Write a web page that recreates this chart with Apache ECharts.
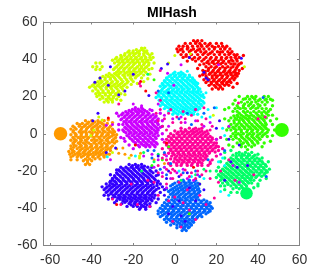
<!DOCTYPE html>
<html>
<head>
<meta charset="utf-8">
<style>html,body{margin:0;padding:0;background:#fff}#c{width:332px;height:276px}</style>
<script src="https://cdn.jsdelivr.net/npm/echarts@6/dist/echarts.min.js"></script>
</head>
<body>
<div id="c"></div>
<script>
const titleText = "MIHash";
const tickValues = [-60,-40,-20,0,20,40,60];
const classColors = ["#ff0000","#ff9900","#ccff00","#33ff00","#00ff66","#00ffff","#0066ff","#3300ff","#cc00ff","#ff0099"];

const redPts = [
[9,50],[11,50],[13,50],
[5,48.5],[7.5,48.5],[10,48.5],[12,48.5],[14.5,48.5],[17,48.5],[20,48.5],[22.5,48.5],
[2,47],[4,47],[6,47],[8.5,47],[11,47],[13,47],[15.5,47],[18,47],[21,47],[23,47],[25,47],
[1,45.5],[3.5,45.5],[6,45.5],[9,45.5],[12,45.5],[14,45.5],[16.5,45.5],[19,45.5],[22,45.5],[24,45.5],[26.5,45.5],
[1.5,44],[4,44],[7,44],[10,44],[12.5,44],[15,44],[18,44],[20.5,44],[23,44],[25.5,44],[27.5,44],
[3,42.5],[5.5,42.5],[8,42.5],[11,42.5],[13.5,42.5],[16,42.5],[19,42.5],[21.5,42.5],[24,42.5],[26,42.5],[28.5,42.5],[30,42.5],
[4,41],[7,41],[9.5,41],[12,41],[15,41],[17.5,41],[20,41],[22.5,41],[25,41],[27,41],[29,41],[31,41],
[6,39],[10,39],[13,39],[16,39],[18.5,39],[21,39],[23.5,39],[26,39],[28,39],[30,39],
[14,37.5],[16.5,37.5],[19,37.5],[22,37.5],[24.5,37.5],[27,37.5],[29,37.5],[31,37.5],
[15,36],[17.5,36],[20,36],[23,36],[25.5,36],[28,36],[30,36],
[13.5,34],[16,34],[18.5,34],[21,34],[24,34],[26.5,34],[29,34],[31,34],
[14.5,32.5],[17,32.5],[19.5,32.5],[22,32.5],[25,32.5],[27,32.5],[29.5,32.5],
[12,31],[15,31],[18,31],[20.5,31],[23,31],[25.5,31],[28,31],[30,31],
[14,29],[16.5,29],[19,29],[21.5,29],[24,29],[26.5,29],[28.5,29],[29,30],
[15,27.5],[17.5,27.5],[20,27.5],[22.5,27.5],[25,27.5],[27,27.5],
[16.5,26],[19,26],[21.5,26],[24,26],[26,26],
[18,24],[21,24],[23,24],[28,25],
[6.3,46.2],[10.2,49.1],[12.7,47.6],[16.4,47.8],[19.3,46.4],[24.2,46.1],[2.6,45.1],[7.8,44.8],[11,45],[14.2,43.4],[17,43.2],[21.8,43.6],[26.6,43.1],[29.3,41.8],[5.4,41.6],[8.5,40],[11.3,40.2],[14,40],[17,40.1],[19.6,39.9],[22.3,40],[24.6,40.4],[27.3,39.6],[29.7,40],[15.4,38.2],[18,38.4],[20.6,37.9],[23,38.2],[26,38.5],[28.4,37.4],[30.6,36.9],[16.3,35],[19.2,35.3],[21.7,35],[24.3,35.2],[27,35.3],[29.6,35.1],[14.6,33.4],[18,33.2],[20.6,33.4],[23.4,33.2],[26,33.4],[28.3,33.1],[30.6,32.4],[13.4,31.7],[16.6,31.9],[19.2,31.6],[21.8,31.7],[24.4,31.9],[27,31.8],[29.2,31.7],[15.5,29.9],[18,30],[20,30.2],[22.6,29.9],[25,30.1],[27.5,30],[16,28.4],[18.6,28.3],[21,28.4],[23.4,28.2],[25.9,28.1],[17.6,26.8],[20.4,26.7],[23,26.9],[25,26.9],[19.8,25],[22,25.1],
[32,38],[32.5,35],[33,42],[12,37],[11,35],[30,27]
];
const orangePts = [
[-43,7],[-40,7],[-37,7],[-34,7],
[-47,5.5],[-44.5,5.5],[-42,5.5],[-39.5,5.5],[-37,5.5],[-35,5.5],[-32.5,5.5],
[-49,4],[-46,4],[-43.5,4],[-41,4],[-38.5,4],[-36,4],[-33.5,4],[-31,4],
[-50,2.5],[-47.5,2.5],[-45,2.5],[-42.5,2.5],[-40,2.5],[-37.5,2.5],[-35,2.5],[-32.5,2.5],[-30,2.5],
[-49,1],[-46,1],[-44,1],[-41,1],[-38.5,1],[-36,1],[-33.5,1],[-31,1],[-29,1],
[-50,-0.5],[-47.5,-0.5],[-45,-0.5],[-42.5,-0.5],[-40,-0.5],[-37.5,-0.5],[-35,-0.5],[-32,-0.5],[-29.5,-0.5],
[-49,-2],[-46.5,-2],[-44,-2],[-41.5,-2],[-39,-2],[-36.5,-2],[-34,-2],[-31.5,-2],[-28.5,-2],
[-50,-3.5],[-47.5,-3.5],[-45,-3.5],[-43,-3.5],[-40,-3.5],[-37.5,-3.5],[-35,-3.5],[-33,-3.5],[-30,-3.5],
[-49,-5],[-46.5,-5],[-44,-5],[-41.5,-5],[-39,-5],[-36.5,-5],[-34,-5],[-31.5,-5],[-29,-5],
[-50,-6.5],[-47.5,-6.5],[-45,-6.5],[-42.5,-6.5],[-40,-6.5],[-37.5,-6.5],[-35,-6.5],[-32.5,-6.5],[-30,-6.5],
[-50,-8],[-47,-8],[-44.5,-8],[-42,-8],[-39.5,-8],[-37,-8],[-34.5,-8],[-32,-8],
[-51,-9.5],[-48.5,-9.5],[-46,-9.5],[-43.5,-9.5],[-41,-9.5],[-38,-9.5],[-36,-9.5],[-33.5,-9.5],
[-50.5,-11],[-48,-11],[-45.5,-11],[-43,-11],[-40.5,-11],[-38,-11],[-35.5,-11],[-33,-11],
[-50,-12.5],[-47,-12.5],[-45,-12.5],[-42,-12.5],[-39.5,-12.5],[-37,-12.5],[-34,-12.5],
[-44,-14.5],[-42,-14.5],[-40,-14.5],[-43,-16.5],[-41,-16.5],
[-41.5,6.2],[-38.5,6.3],[-35.8,6.2],[-45.7,4.8],[-43,4.7],[-40.2,4.8],[-37.6,4.7],[-34.2,4.8],[-48.2,3.3],[-44.6,3.4],[-42,3.2],[-39.4,3.3],[-37,3.2],[-34.3,3.3],[-31.7,3.1],[-48.8,1.7],[-45.3,1.8],[-42.8,1.6],[-39.6,1.8],[-37,1.8],[-34.4,1.7],[-31.9,1.9],[-29.6,1.7],[-48,0.2],[-45,0.3],[-42.6,0.4],[-39.8,0.2],[-37.3,0.3],[-34.8,0.2],[-32.2,0.2],[-30,0.3],[-47.7,-1.2],[-45.2,-1.3],[-42.8,-1.4],[-40.2,-1.2],[-37.8,-1.3],[-35.4,-1.2],[-33,-1.1],[-30.4,-1.3],[-48.4,-2.8],[-45.4,-2.7],[-42,-2.8],[-38.8,-2.9],[-36,-2.8],[-32.4,-2.7],[-29.3,-2.8],[-48.2,-4.2],[-45.4,-4.3],[-42.6,-4.2],[-38.4,-4.2],[-35.7,-4.3],[-32.2,-4.2],[-30.2,-4.3],[-48.6,-5.8],[-45.6,-5.7],[-43,-5.8],[-40.4,-5.7],[-37.8,-5.8],[-35.2,-5.7],[-32.8,-5.8],[-48.7,-7.3],[-45.8,-7.2],[-43.2,-7.3],[-40.8,-7.2],[-38.2,-7.3],[-35.8,-7.2],[-33.2,-7.3],[-30.8,-7.4],[-49.2,-8.8],[-45.4,-8.7],[-43,-8.8],[-40.2,-8.7],[-37.6,-8.8],[-35.3,-8.7],[-33,-8.8],[-49.4,-10.2],[-46.8,-10.3],[-44.2,-10.2],[-41.8,-10.3],[-39.2,-10.2],[-36.8,-10.3],[-34.4,-10.2],[-49,-11.8],[-46.5,-11.7],[-44,-11.8],[-41.6,-11.7],[-39.2,-11.8],[-36.4,-11.7],[-34.2,-11.8],[-43,-13.6],[-41,-13.5],[-38.4,-13.4],[-42,-15.6],
[-31,-9],[-31.5,-11],[-28,-4],[-28,-0.5],[-30,6],[-32,7.5],[-36,-13.5],[-47,-14],[-50,-14]
];
const yellowPts = [
[-16,46],[-14.5,46],
[-22,44.5],[-20,44.5],[-17,44.5],[-15,44.5],[-13.5,44.5],
[-24,43],[-21.5,43],[-19,43],[-17,43],[-15,43],[-13,43],[-11,43],
[-28,41],[-25.5,41],[-23,41],[-21,41],[-18.5,41],[-16,41],[-14,41],[-12,41],[-10.5,41],
[-30,39.5],[-27,39.5],[-25,39.5],[-22.5,39.5],[-20,39.5],[-18,39.5],[-15.5,39.5],[-13,39.5],
[-38,38],[-36,38],[-29,38],[-26.5,38],[-24,38],[-21.5,38],[-19,38],[-17,38],[-14.5,38],[-12.5,38],
[-39.5,36],[-37.5,36],[-35,36],[-28,36],[-25.5,36],[-23,36],[-20.5,36],[-18,36],[-16,36],[-13.5,36],
[-38,34.5],[-36,34.5],[-29.5,34.5],[-27,34.5],[-24.5,34.5],[-22,34.5],[-19.5,34.5],[-17,34.5],[-15,34.5],[-12.5,34.5],
[-28,33],[-26,33],[-23,33],[-21,33],[-18.5,33],[-16,33],[-14,33],
[-33,31.5],[-30.5,31.5],[-28,31.5],[-25,31.5],[-22.5,31.5],[-20,31.5],[-17.5,31.5],[-15,31.5],
[-36,30],[-33.5,30],[-31,30],[-29,30],[-26.5,30],[-24,30],[-21.5,30],[-19,30],[-16,30],
[-37,28],[-35,28],[-32.5,28],[-30,28],[-27.5,28],[-25,28],[-22.5,28],[-20,28],
[-39,26.5],[-36.5,26.5],[-34,26.5],[-31.5,26.5],[-29,26.5],[-26.5,26.5],[-24,26.5],[-21,26.5],
[-41,25],[-38.5,25],[-36,25],[-33,25],[-31,25],[-28.5,25],[-26,25],[-23,25],
[-39.5,23],[-37,23],[-34.5,23],[-32,23],[-29.5,23],[-27,23],[-24.5,23],
[-38,21.5],[-36,21.5],[-33.5,21.5],[-31,21.5],[-28.5,21.5],[-26,21.5],
[-37.5,20],[-35,20],[-32,20],[-29.5,20],[-27,20],
[-36,18.5],[-33,18.5],[-31,18.5],[-28,18.5],
[-34,17],[-32,17],[-30,17],
[-18.5,45.1],[-15.8,45.2],[-22.6,43.8],[-20.2,43.6],[-18,43.7],[-14,43.8],[-12,42.1],[-26,42],[-24.2,42.1],[-22,42.1],[-19.8,42],[-17.3,42],[-14.8,42.1],[-28.6,40.2],[-26.2,40.3],[-23.8,40.2],[-21.3,40.2],[-19,40.4],[-16.8,40.2],[-14.2,40.2],[-11.5,39.8],[-27.6,38.8],[-25.2,38.7],[-22.8,38.8],[-20.3,38.8],[-18,38.7],[-15.6,38.9],[-13.6,38.8],[-27.2,37],[-24.8,37.1],[-22.2,37],[-19.8,37.2],[-17,37],[-15,37.2],[-12.6,36.9],[-28.8,35.3],[-26.2,35.3],[-24,35.2],[-21.4,35.3],[-18.8,35.2],[-16.2,35.3],[-14.2,35.4],[-27.2,33.8],[-24.6,33.7],[-22,33.7],[-19.8,33.8],[-17.2,33.6],[-15,33.9],[-31.6,32.4],[-29,32.3],[-26.8,32.2],[-24,32.4],[-21.6,32.2],[-19.2,32.3],[-16.6,32.3],[-34.6,30.8],[-32,30.8],[-29.6,30.8],[-27.2,30.9],[-24.2,30.8],[-21.2,30.8],[-18.4,30.9],[-35.8,29],[-33.6,29],[-31,29.2],[-28.4,29],[-25.8,29.1],[-23.2,29],[-20.8,29.1],[-38,27.2],[-35.6,27.4],[-33,27.2],[-30.6,27.3],[-28,27.2],[-25.6,27.2],[-23,27.3],[-39.8,25.8],[-37.2,25.8],[-34.8,25.7],[-32.2,25.8],[-30,25.7],[-27.4,25.8],[-24.8,25.7],[-38,24],[-35.4,24],[-33,24.1],[-30.4,24],[-27.8,24.1],[-25.2,24],[-36.8,22.2],[-34.6,22.2],[-32,22.3],[-30,22.3],[-27.4,22.2],[-36.4,20.8],[-33.4,20.8],[-31,20.9],[-28.4,20.8],[-34.6,19.2],[-31.8,19.3],[-29.6,19.3],[-32.6,17.8],[-30.2,18],
[-10,38],[-11,35],[-12,32],[-13,29.5],[-18,27],[-15,28],[-24,21],[-26,18]
];
const greenPts = [
[35,20],[37,20],[39,20],[43,20],[45,20],
[33,18.5],[36,18.5],[38.5,18.5],[41,18.5],[44,18.5],[46,18.5],
[32,17],[35,17],[37,17],[39,17],[42,17],[44.5,17],
[30,15],[33,15],[35.5,15],[38,15],[41,15],
[29,13.5],[31.5,13.5],[34,13.5],[36.5,13.5],[39,13.5],[42,13.5],[44,13.5],
[24,13],[26,14],[28,12],[30,12],[33,12],[35,12],[38,12],[40.5,12],[43,12],[45,12],
[30,10],[32,10],[34.5,10],[37,10],[40,10],[42,10],[45,10],[47,10],
[27,8.5],[29,8.5],[31.5,8.5],[34,8.5],[36,8.5],[39,8.5],[41.5,8.5],[44,8.5],
[26,7],[28.5,7],[31,7],[33,7],[35.5,7],[38,7],[40.5,7],[43,7],[46,7],
[27,5],[30,5],[32,5],[34.5,5],[37,5],[39.5,5],[42,5],[44,5],
[26,3.5],[28,3.5],[31,3.5],[33.5,3.5],[36,3.5],[38.5,3.5],[41,3.5],[43.5,3.5],
[27,2],[29.5,2],[32,2],[35,2],[37.5,2],[40,2],[42.5,2],[45,2],
[28,0],[30.5,0],[33,0],[36,0],[38,0],[41,0],[43.5,0],
[27,-1.5],[29,-1.5],[32,-1.5],[34.5,-1.5],[37,-1.5],[39.5,-1.5],[42,-1.5],[44.5,-1.5],
[28,-3],[31,-3],[33.5,-3],[36,-3],[38.5,-3],[41,-3],
[30,-5],[33,-5],[35,-5],[37.5,-5],[40,-5],
[32,-7],[34,-7],[37,-7],[35,-8.5],
[34,18.8],[37.6,19.4],[40.2,17.8],[43.4,18.2],[33.6,16],[36.4,16],[40,15.8],[43.4,15.6],[30.6,14],[33,14],[37.4,14.2],[40,14],[31,11],[33.8,11.2],[36.4,11.2],[39.2,11],[41.8,11.2],[44,11],[28.4,9.6],[30.4,9.2],[33,9.2],[35.6,9.4],[38,9.4],[40.6,9.2],[43,9.2],[29.8,7.8],[32.4,7.8],[34.8,7.8],[37.2,7.8],[39.6,7.8],[42.4,7.8],[28.6,5.8],[31,6],[33.6,6],[36,6],[38.6,6],[41.2,6],[43.6,5.8],[29.4,4.2],[32.6,4.2],[35.2,4.2],[37.6,4.2],[40.2,4.2],[42.8,4.2],[28.6,2.8],[31,2.6],[33.6,2.8],[36.4,2.8],[39,2.8],[41.6,2.8],[44,2.8],[29.2,1],[32,1],[34.6,1],[37,1.2],[39.6,1],[42,1],[44.4,0.8],[29.4,-0.6],[31.6,-0.6],[35,-0.6],[37.4,-0.6],[40,-0.6],[42.6,-0.6],[29.6,-2.2],[32.6,-2.2],[35.2,-2.2],[37.8,-2.2],[40.4,-2.2],[31.6,-4],[34.4,-4],[37,-4],[39.6,-4],[32,-5.8],[35.6,-6],[38.4,-6],
[47,5],[48,2],[47,-1],[46,13],[47,15],[24,8],[25,2],[25,-3],[26,-6],[28,-7],[43,-5],[42,-7],[28,16],[29,18],[31,20],[47,18],[49,8],[46,-4]
];
const springPts = [
[31,-10],[34,-10],[37,-10],
[28,-11.5],[31,-11.5],[33.5,-11.5],[36,-11.5],[38.5,-11.5],
[27,-13],[29.5,-13],[32,-13],[34.5,-13],[37,-13],[39.5,-13],
[26,-14.5],[28.5,-14.5],[31,-14.5],[33.5,-14.5],[36,-14.5],[38.5,-14.5],[41,-14.5],
[25,-16],[27.5,-16],[30,-16],[32.5,-16],[35,-16],[37.5,-16],[40,-16],[42.5,-16],
[24,-17.5],[26.5,-17.5],[29,-17.5],[31.5,-17.5],[34,-17.5],[36.5,-17.5],[39,-17.5],[41.5,-17.5],[44,-17.5],
[23,-19],[25.5,-19],[28,-19],[30.5,-19],[33,-19],[35.5,-19],[38,-19],[40.5,-19],[43,-19],[45.5,-19],
[22,-20.5],[24.5,-20.5],[27,-20.5],[29.5,-20.5],[32,-20.5],[34.5,-20.5],[37,-20.5],[39.5,-20.5],[42,-20.5],[44.5,-20.5],
[21,-22],[23.5,-22],[26,-22],[28.5,-22],[31,-22],[33.5,-22],[36,-22],[38,-22],[40.5,-22],[43,-22],
[20,-23.5],[22.5,-23.5],[25,-23.5],[27.5,-23.5],[30,-23.5],[32.5,-23.5],[35,-23.5],[37,-23.5],[39,-23.5],
[22,-25],[24,-25],[26.5,-25],[29,-25],[31.5,-25],[34,-25],[36.5,-25],[38,-25],
[23,-26.5],[25.5,-26.5],[28,-26.5],[30.5,-26.5],[33,-26.5],[35.5,-26.5],[37,-26.5],
[24,-28],[27,-28],[29.5,-28],[32,-28],[34.5,-28],
[28,-29.5],[31,-29.5],[33,-29.5],[27,-31.5],[30,-31.5],
[29.6,-10.6],[32.4,-10.8],[35.4,-10.8],[29.6,-12.2],[32.2,-12.2],[35,-12.2],[37.8,-12.2],[28,-13.8],[30.4,-13.8],[33,-13.8],[35.8,-13.8],[38.4,-13.8],[40.6,-13.6],[26.8,-15.2],[29.4,-15.2],[32,-15.2],[34.8,-15.2],[37.2,-15.2],[39.8,-15.2],[42,-15],[25.8,-16.8],[28.4,-16.8],[31,-16.8],[33.6,-16.8],[36.2,-16.8],[38.6,-16.8],[41.2,-16.8],[43.6,-16.6],[24.6,-18.2],[27.2,-18.2],[29.8,-18.2],[32.4,-18.2],[35,-18.2],[37.6,-18.2],[40.2,-18.2],[42.6,-18.2],[23.8,-19.8],[26.4,-19.8],[29,-19.8],[31.4,-19.8],[34,-19.8],[36.4,-19.8],[39,-19.8],[41.6,-19.8],[44,-19.8],[22.6,-21.2],[25.4,-21.2],[27.8,-21.2],[30.4,-21.2],[32.8,-21.2],[35.4,-21.2],[38,-21],[40.8,-21.2],[43.4,-21.2],[22,-22.8],[24.4,-22.8],[27,-22.8],[29.6,-22.8],[32.2,-22.8],[34.6,-22.8],[37,-22.8],[39.4,-22.8],[41.8,-22.8],[23.4,-24.2],[26,-24.2],[28.4,-24.2],[31,-24.2],[33.6,-24.2],[36,-24.2],[24.8,-25.8],[27.4,-25.8],[30,-25.8],[32.6,-25.8],[35,-25.8],[25.6,-27.2],[28.6,-27.2],[31,-27.2],[33.8,-27.2],[29.6,-28.8],[32.4,-28.8],
[24,-13],[22,-15],[21,-18],[20,-20],[24,-10],[27,-9],[40,-11],[42,-13],[45,-15],[40,-27],[41,-25],[44,-24],[22,-28],[24,-30],[38,-29],[40,-28]
];
const cyanPts = [
[0,33],[3,33],
[-2,31.5],[0.5,31.5],[3,31.5],[5,31.5],[7,31.5],
[-4,30],[-1.5,30],[1,30],[3.5,30],[6,30],[8.5,30],
[-5,28.5],[-2.5,28.5],[0,28.5],[2.5,28.5],[5,28.5],[7.5,28.5],[9.5,28.5],
[-6,27],[-3.5,27],[-1,27],[1.5,27],[4,27],[6.5,27],[9,27],[11,27],
[-7,25.5],[-4.5,25.5],[-2,25.5],[0.5,25.5],[3,25.5],[5.5,25.5],[8,25.5],[10.5,25.5],
[-6,24],[-3,24],[-0.5,24],[2,24],[4.5,24],[7,24],[9.5,24],[12,24],
[-7.5,22.5],[-5,22.5],[-2.5,22.5],[0,22.5],[2.5,22.5],[5,22.5],[7.5,22.5],[10,22.5],[12.5,22.5],
[-8,21],[-5.5,21],[-3,21],[-0.5,21],[2,21],[4.5,21],[7,21],[9.5,21],[12,21],[13.5,21],
[-9,19.5],[-6.5,19.5],[-4,19.5],[-1.5,19.5],[1,19.5],[3.5,19.5],[6,19.5],[8.5,19.5],[11,19.5],[14,19.5],
[-7.5,18],[-5,18],[-2.5,18],[0,18],[2.5,18],[5,18],[7.5,18],[10,18],[12.5,18],
[-6,16.5],[-3.5,16.5],[-1,16.5],[1.5,16.5],[4,16.5],[6.5,16.5],[9,16.5],[11.5,16.5],[14,16.5],
[-7,15],[-4.5,15],[-2,15],[0.5,15],[3,15],[5.5,15],[8,15],[10.5,15],[13,15],
[-5,13.5],[-2.5,13.5],[0,13.5],[2.5,13.5],[5,13.5],[7.5,13.5],[10,13.5],[12,13.5],
[-3,12],[-0.5,12],[2,12],[4.5,12],[7,12],[9.5,12],
[-1,10.5],[1.5,10.5],[4,10.5],[6.5,10.5],[9,10.5],[11,10.5],
[-0.8,32.2],[1.8,32.4],[4,32.2],[-2.8,30.8],[-0.2,30.8],[2.2,30.8],[4.6,30.8],[7.2,30.6],[-3.6,29.2],[-1,29.2],[1.4,29.2],[4,29.2],[6.4,29.2],[8.8,29.2],[-4.6,27.8],[-2,27.8],[0.6,27.8],[3.2,27.8],[5.8,27.8],[8.2,27.8],[10.2,27.6],[-5.6,26.2],[-3,26.2],[-0.4,26.2],[2,26.2],[4.6,26.2],[7.2,26.2],[9.8,26.2],[-5.2,24.8],[-1.8,24.8],[0.8,24.8],[3.4,24.8],[6,24.8],[8.6,24.8],[11,24.8],[-6.4,23.2],[-3.8,23.2],[-1.2,23.2],[1.2,23.2],[3.6,23.2],[6.2,23.2],[8.8,23.2],[11.2,23.2],[-6.6,21.8],[-4,21.8],[-1.6,21.8],[1,21.8],[3.4,21.8],[6,21.8],[8.6,21.8],[11,21.8],[-7.6,20.2],[-5,20.2],[-2.4,20.2],[0,20.2],[2.6,20.2],[5.2,20.2],[7.8,20.2],[10.4,20.2],[12.8,20.2],[-6.4,18.8],[-3.8,18.8],[-1.2,18.8],[1.4,18.8],[4,18.8],[6.6,18.8],[9.2,18.8],[11.8,18.8],[-6.6,17.2],[-4,17.2],[-1.6,17.2],[1,17.2],[3.6,17.2],[6,17.2],[8.6,17.2],[11.2,17.2],[13.4,17.4],[-5.6,15.8],[-2.8,15.8],[-0.2,15.8],[2.2,15.8],[4.8,15.8],[7.4,15.8],[9.8,15.8],[12.4,15.8],[-3.6,14.2],[-1,14.2],[1.4,14.2],[4,14.2],[6.4,14.2],[9,14.2],[11.6,14.2],[-1.6,12.8],[1,12.8],[3.6,12.8],[6,12.8],[8.6,12.8],[11,12.8],[0.4,11.2],[3,11.2],[5.6,11.2],[8,11.2]
];
const bluePts = [
[4,-25],[7,-25],[10,-25],
[0,-26.5],[3,-26.5],[5.5,-26.5],[8,-26.5],[11,-26.5],
[-2,-28],[1,-28],[3.5,-28],[6,-28],[8.5,-28],[11,-28],
[-4,-29.5],[-1,-29.5],[1.5,-29.5],[4,-29.5],[6.5,-29.5],[9,-29.5],[11.5,-29.5],
[-3,-31],[-0.5,-31],[2,-31],[4.5,-31],[7,-31],[9.5,-31],[12,-31],
[-2,-32.5],[0.5,-32.5],[3,-32.5],[5.5,-32.5],[8,-32.5],[10.5,-32.5],
[-3,-34],[-1,-34],[1.5,-34],[4,-34],[6.5,-34],[9,-34],[11,-34],
[-4,-35.5],[-1.5,-35.5],[1,-35.5],[3.5,-35.5],[6,-35.5],[8.5,-35.5],[11.5,-35.5],[14,-35.5],
[-5,-37],[-2.5,-37],[0,-37],[2.5,-37],[5,-37],[7.5,-37],[10,-37],[12.5,-37],[15,-37],[17,-37],
[-6,-38.5],[-3.5,-38.5],[-1,-38.5],[1.5,-38.5],[4,-38.5],[6.5,-38.5],[9,-38.5],[11.5,-38.5],[14,-38.5],[16.5,-38.5],
[-7,-40],[-4.5,-40],[-2,-40],[0.5,-40],[3,-40],[5.5,-40],[8,-40],[10.5,-40],[13,-40],[15.5,-40],[18,-40],
[-8,-41.5],[-5.5,-41.5],[-3,-41.5],[-0.5,-41.5],[2,-41.5],[4.5,-41.5],[7,-41.5],[9.5,-41.5],[12,-41.5],[14.5,-41.5],[17,-41.5],
[-8,-43],[-5,-43],[-2,-43],[0,-43],[2.5,-43],[5,-43],[7.5,-43],[10,-43],[12.5,-43],[15,-43],
[-7,-44.5],[-4,-44.5],[-1.5,-44.5],[1,-44.5],[3.5,-44.5],[6,-44.5],[8.5,-44.5],[11,-44.5],[13,-44.5],
[-5,-46],[-3,-46],[-0.5,-46],[2,-46],[4.5,-46],[7,-46],[9.5,-46],
[-4,-47.5],[-1,-47.5],[1.5,-47.5],[4,-47.5],[6.5,-47.5],[9,-47.5],
[-2,-49],[1,-49],[3.5,-49],[6,-49],[8,-49],
[1,-50.5],[4,-50.5],[6.5,-50.5],[3.5,-52],[5.5,-52],
[1.6,-25.8],[4.4,-25.8],[6.8,-25.8],[9.4,-25.8],[-1,-27.2],[2.2,-27.2],[4.8,-27.2],[7.2,-27.2],[9.8,-27.2],[0,-28.8],[2.6,-28.8],[5,-28.8],[7.6,-28.8],[10,-28.8],[-2,-30.2],[0.6,-30.2],[3.2,-30.2],[5.6,-30.2],[8.2,-30.2],[10.8,-30.2],[-1,-31.8],[1.4,-31.8],[4,-31.8],[6.6,-31.8],[9.2,-31.8],[11.4,-31.8],[-0.6,-33.2],[2.2,-33.2],[4.8,-33.2],[7.4,-33.2],[9.8,-33.2],[0,-34.8],[2.6,-34.8],[5.2,-34.8],[7.8,-34.8],[10.2,-34.8],[-3,-36.2],[-0.4,-36.2],[2.2,-36.2],[4.8,-36.2],[7.2,-36.2],[10,-36.2],[12.8,-36.2],[15.4,-36.2],[-3.8,-37.8],[-1.2,-37.8],[1.2,-37.8],[3.8,-37.8],[6.2,-37.8],[8.8,-37.8],[11.2,-37.8],[13.8,-37.8],[16.2,-37.8],[-4.8,-39.2],[-2.2,-39.2],[0.2,-39.2],[2.8,-39.2],[5.4,-39.2],[7.8,-39.2],[10.2,-39.2],[12.8,-39.2],[15.2,-39.2],[17.4,-39.2],[-5.8,-40.8],[-3.2,-40.8],[-0.8,-40.8],[1.8,-40.8],[4.2,-40.8],[6.8,-40.8],[9.2,-40.8],[11.8,-40.8],[14.2,-40.8],[16.6,-40.8],[-6.6,-42.2],[-4,-42.2],[-1.4,-42.2],[1,-42.2],[3.4,-42.2],[6,-42.2],[8.6,-42.2],[11,-42.2],[13.6,-42.2],[16,-42.2],[-6,-43.8],[-3.4,-43.8],[-0.8,-43.8],[1.6,-43.8],[4.2,-43.8],[6.8,-43.8],[9.2,-43.8],[11.8,-43.8],[-4,-45.2],[-1.8,-45.2],[0.8,-45.2],[3.2,-45.2],[5.6,-45.2],[8.4,-45.2],[10.6,-45.2],[-2,-46.8],[0.6,-46.8],[3.2,-46.8],[5.8,-46.8],[8.2,-46.8],[-0.4,-48.2],[2.4,-48.2],[4.8,-48.2],[7.4,-48.2],[2.6,-49.8],[5,-49.8],[7,-50],[4.6,-51.2]
];
const indigoPts = [
[-22,-16.5],[-19,-16.5],[-16,-16.5],
[-26,-18],[-23.5,-18],[-21,-18],[-18.5,-18],[-16,-18],[-13,-18],
[-27,-19.5],[-24.5,-19.5],[-22,-19.5],[-19.5,-19.5],[-17,-19.5],[-14.5,-19.5],[-12,-19.5],
[-28,-21],[-25.5,-21],[-23,-21],[-20.5,-21],[-18,-21],[-15.5,-21],[-13,-21],[-10.5,-21],
[-29,-22.5],[-26.5,-22.5],[-24,-22.5],[-21.5,-22.5],[-19,-22.5],[-16.5,-22.5],[-14,-22.5],[-11.5,-22.5],[-9,-22.5],
[-30,-24],[-28,-24],[-25,-24],[-22.5,-24],[-20,-24],[-17.5,-24],[-15,-24],[-12.5,-24],[-10,-24],
[-31,-25.5],[-29,-25.5],[-26.5,-25.5],[-24,-25.5],[-21.5,-25.5],[-19,-25.5],[-16.5,-25.5],[-14,-25.5],[-11.5,-25.5],[-8,-25.5],
[-33,-27],[-30,-27],[-28,-27],[-25.5,-27],[-23,-27],[-20.5,-27],[-18,-27],[-15.5,-27],[-13,-27],[-10.5,-27],[-7,-27],
[-35,-28.5],[-32.5,-28.5],[-30,-28.5],[-27.5,-28.5],[-25,-28.5],[-22.5,-28.5],[-20,-28.5],[-17.5,-28.5],[-15,-28.5],[-12.5,-28.5],[-10,-28.5],[-6,-28.5],
[-34,-30],[-31.5,-30],[-29,-30],[-26.5,-30],[-24,-30],[-21.5,-30],[-19,-30],[-16.5,-30],[-14,-30],[-11.5,-30],[-9,-30],[-5,-30],
[-33,-31.5],[-30.5,-31.5],[-28,-31.5],[-25.5,-31.5],[-23,-31.5],[-20.5,-31.5],[-18,-31.5],[-15.5,-31.5],[-13,-31.5],[-10.5,-31.5],[-7,-31.5],
[-32,-33],[-29.5,-33],[-27,-33],[-24.5,-33],[-22,-33],[-19.5,-33],[-17,-33],[-14.5,-33],[-12,-33],[-9.5,-33],
[-30,-34.5],[-27.5,-34.5],[-25,-34.5],[-22.5,-34.5],[-20,-34.5],[-17.5,-34.5],[-15,-34.5],[-12.5,-34.5],[-10,-34.5],
[-28,-36],[-25,-36],[-23,-36],[-20.5,-36],[-18,-36],[-15.5,-36],[-13,-36],[-11,-36],
[-25.5,-37.5],[-22,-37.5],[-19.5,-37.5],[-17,-37.5],[-14.5,-37.5],[-12,-37.5],
[-23,-39],[-20,-39],[-18,-39],[-15,-39],[-12,-39],[-17,-40.5],[-14,-40.5],
[-20.4,-17.2],[-17.6,-17.2],[-14.6,-17.4],[-25,-18.8],[-22.6,-18.8],[-20,-18.8],[-17.4,-18.8],[-15,-18.8],[-26.4,-20.2],[-23.8,-20.2],[-21.2,-20.2],[-18.8,-20.2],[-16.2,-20.2],[-13.8,-20.2],[-11.4,-20.2],[-27.4,-21.8],[-24.8,-21.8],[-22.2,-21.8],[-19.8,-21.8],[-17.2,-21.8],[-14.8,-21.8],[-12.2,-21.8],[-28.8,-23.2],[-26,-23.2],[-23.4,-23.2],[-20.8,-23.2],[-18.4,-23.2],[-15.8,-23.2],[-13.2,-23.2],[-10.8,-23.2],[-30,-24.8],[-27.2,-24.8],[-24.8,-24.8],[-22.2,-24.8],[-19.8,-24.8],[-17.2,-24.8],[-14.8,-24.8],[-12.2,-24.8],[-9.4,-24.8],[-31.2,-26.2],[-28.4,-26.2],[-25.8,-26.2],[-23.2,-26.2],[-20.8,-26.2],[-18.2,-26.2],[-15.8,-26.2],[-13.2,-26.2],[-10.6,-26.2],[-8.4,-26.4],[-31.4,-27.8],[-29,-27.8],[-26.6,-27.8],[-24,-27.8],[-21.6,-27.8],[-19,-27.8],[-16.6,-27.8],[-14,-27.8],[-11.6,-27.8],[-8.6,-27.8],[-33.2,-29.2],[-30.8,-29.2],[-28.2,-29.2],[-25.8,-29.2],[-23.2,-29.2],[-20.8,-29.2],[-18.2,-29.2],[-15.8,-29.2],[-13.2,-29.2],[-10.8,-29.2],[-7.8,-29.2],[-32.2,-30.8],[-29.8,-30.8],[-27.2,-30.8],[-24.8,-30.8],[-22.2,-30.8],[-19.8,-30.8],[-17.2,-30.8],[-14.8,-30.8],[-12.2,-30.8],[-9.8,-30.8],[-30.8,-32.2],[-28.4,-32.2],[-25.8,-32.2],[-23.2,-32.2],[-20.8,-32.2],[-18.2,-32.2],[-15.8,-32.2],[-13.2,-32.2],[-10.8,-32.2],[-28.8,-33.8],[-26.2,-33.8],[-23.8,-33.8],[-21.2,-33.8],[-18.8,-33.8],[-16.2,-33.8],[-13.8,-33.8],[-11,-33.8],[-26.4,-35.2],[-24,-35.2],[-21.4,-35.2],[-19,-35.2],[-16.6,-35.2],[-14,-35.2],[-11.6,-35.2],[-24,-36.8],[-21.4,-36.8],[-19,-36.8],[-16.6,-36.8],[-14,-36.8],[-21,-38.2],[-18.6,-38.2],[-16,-38.2],[-13.4,-38.2],[-16.4,-39.6],[-14,-39.6],
[-8,-22],[-9,-20],[-11,-18],[-8,-35],[-9,-37],[-29,-37],[-32,-35],[-34,-33],[-31,-22],[-28,-19.5]
];
const magentaPts = [
[-19,14],[-16,14],
[-22,12.5],[-19,12.5],[-17,12.5],[-14.5,12.5],
[-28,11],[-25,11],[-22.5,11],[-20,11],[-17.5,11],[-15,11],[-12.5,11],
[-27,9.5],[-24,9.5],[-21.5,9.5],[-19,9.5],[-16.5,9.5],[-14,9.5],[-11.5,9.5],[-9,9.5],
[-25.5,8],[-23,8],[-20.5,8],[-18,8],[-15.5,8],[-13,8],[-10.5,8],[-8,8],
[-24.5,6.5],[-22,6.5],[-19.5,6.5],[-17,6.5],[-14.5,6.5],[-12,6.5],[-9.5,6.5],
[-25,5],[-23,5],[-20.5,5],[-18,5],[-15.5,5],[-13,5],[-10.5,5],[-8,5],
[-24,3.5],[-21.5,3.5],[-19,3.5],[-16.5,3.5],[-14,3.5],[-11.5,3.5],[-9,3.5],[-7,3.5],
[-25,2],[-22.5,2],[-20,2],[-17.5,2],[-15,2],[-12.5,2],[-10,2],[-8,2],
[-23.5,0.5],[-21,0.5],[-18.5,0.5],[-16,0.5],[-13.5,0.5],[-11,0.5],[-8.5,0.5],
[-23,-1],[-20.5,-1],[-18,-1],[-15.5,-1],[-13,-1],[-10.5,-1],[-8,-1],
[-21.5,-2.5],[-19,-2.5],[-16.5,-2.5],[-14,-2.5],[-11.5,-2.5],[-9,-2.5],
[-20,-4],[-17.5,-4],[-15,-4],[-12.5,-4],[-10,-4],
[-19,-5.5],[-16,-5.5],[-13.5,-5.5],[-11,-5.5],[-8.5,-5.5],
[-17,-7],[-14,-7],[-12,-7],[-9.5,-7],
[-17.6,13.2],[-20.4,13],[-15.4,13.2],[-23.6,11.8],[-21,11.8],[-18.4,11.8],[-16,11.8],[-13.4,11.8],[-25.6,10.2],[-23,10.2],[-20.6,10.2],[-18,10.2],[-15.6,10.2],[-13,10.2],[-10.4,10.2],[-24.4,8.8],[-22,8.8],[-19.6,8.8],[-17,8.8],[-14.4,8.8],[-12,8.8],[-9.6,8.8],[-23.4,7.2],[-21,7.2],[-18.6,7.2],[-16,7.2],[-13.6,7.2],[-11,7.2],[-8.6,7.2],[-23.4,5.8],[-21,5.8],[-18.6,5.8],[-16,5.8],[-13.4,5.8],[-11,5.8],[-8.4,5.8],[-22.4,4.2],[-19.8,4.2],[-17.4,4.2],[-15,4.2],[-12.4,4.2],[-9.8,4.2],[-23.4,2.8],[-21,2.8],[-18.4,2.8],[-15.8,2.8],[-13.4,2.8],[-11,2.8],[-8.4,2.8],[-24.4,1.2],[-21.8,1.2],[-19.4,1.2],[-16.8,1.2],[-14.4,1.2],[-11.8,1.2],[-9.2,1.2],[-22,-0.2],[-19.6,-0.2],[-17,-0.2],[-14.6,-0.2],[-12,-0.2],[-9.6,-0.2],[-22,-1.8],[-19.4,-1.8],[-17,-1.8],[-14.4,-1.8],[-12,-1.8],[-9.4,-1.8],[-20.6,-3.2],[-18,-3.2],[-15.4,-3.2],[-13,-3.2],[-10.6,-3.2],[-19,-4.8],[-16.4,-4.8],[-14,-4.8],[-11.4,-4.8],[-9,-4.8],[-17.6,-6.2],[-15,-6.2],[-12.6,-6.2],[-10,-6.2],
[-27,5],[-27,2],[-26,-2],[-24,-4],[-22,-6],[-20,-8],[-6,0],[-6,-3],[-6,7],[-7,11],[-11,12.5],[-24.5,-2.5]
];
const pinkPts = [
[3,3],[7,3],[10,3],[13,3],
[0,1.5],[3,1.5],[5.5,1.5],[8,1.5],[10.5,1.5],[13,1.5],[15.5,1.5],
[-2,0],[1,0],[3.5,0],[6,0],[8.5,0],[11,0],[13.5,0],[16,0],
[-3,-1.5],[-0.5,-1.5],[2,-1.5],[4.5,-1.5],[7,-1.5],[9.5,-1.5],[12,-1.5],[14.5,-1.5],[17,-1.5],
[-4,-3],[-1.5,-3],[1,-3],[3.5,-3],[6,-3],[8.5,-3],[11,-3],[13.5,-3],[16,-3],[18,-3],
[-5,-4.5],[-2.5,-4.5],[0,-4.5],[2.5,-4.5],[5,-4.5],[7.5,-4.5],[10,-4.5],[12.5,-4.5],[15,-4.5],[17.5,-4.5],
[-4,-6],[-1.5,-6],[1,-6],[3.5,-6],[6,-6],[8.5,-6],[11,-6],[13.5,-6],[16,-6],[18.5,-6],[21,-7],
[-3,-7.5],[-0.5,-7.5],[2,-7.5],[4.5,-7.5],[7,-7.5],[9.5,-7.5],[12,-7.5],[14.5,-7.5],[17,-7.5],[19.5,-7.5],
[-2,-9],[0.5,-9],[3,-9],[5.5,-9],[8,-9],[10.5,-9],[13,-9],[15.5,-9],[18,-9],[21,-9],
[-3,-10.5],[-1,-10.5],[1.5,-10.5],[4,-10.5],[6.5,-10.5],[9,-10.5],[11.5,-10.5],[14,-10.5],[16.5,-10.5],
[-1.5,-12],[1,-12],[3.5,-12],[6,-12],[8.5,-12],[11,-12],[13.5,-12],[15.5,-12],
[-2,-13.5],[0,-13.5],[2.5,-13.5],[5,-13.5],[7.5,-13.5],[10,-13.5],[12.5,-13.5],[15,-13.5],
[-0.5,-15],[2,-15],[4.5,-15],[7,-15],[9.5,-15],[12,-15],
[1,-17],[3,-17],[6,-17],[8,-17],[11,-17],[13,-17],
[5,2.2],[9,2.4],[11.6,2.4],[1.6,0.8],[4.2,0.8],[6.8,0.8],[9.4,0.8],[12,0.8],[14.4,0.8],[-0.6,-0.8],[2.2,-0.8],[4.8,-0.8],[7.4,-0.8],[10,-0.8],[12.6,-0.8],[15,-0.8],[-1.8,-2.2],[0.8,-2.2],[3.2,-2.2],[5.8,-2.2],[8.2,-2.2],[10.8,-2.2],[13.2,-2.2],[15.8,-2.2],[18,-2.2],[-2.8,-3.8],[-0.4,-3.8],[2.2,-3.8],[4.8,-3.8],[7.2,-3.8],[9.8,-3.8],[12.2,-3.8],[14.8,-3.8],[17.2,-3.8],[-3.8,-5.2],[-1.2,-5.2],[1.2,-5.2],[3.8,-5.2],[6.2,-5.2],[8.8,-5.2],[11.2,-5.2],[13.8,-5.2],[16.2,-5.2],[19,-5],[-2.8,-6.8],[-0.2,-6.8],[2.4,-6.8],[4.8,-6.8],[7.4,-6.8],[9.8,-6.8],[12.4,-6.8],[14.8,-6.8],[17.4,-6.8],[20,-6.6],[-1.8,-8.2],[0.8,-8.2],[3.2,-8.2],[5.8,-8.2],[8.2,-8.2],[10.8,-8.2],[13.2,-8.2],[15.8,-8.2],[18.4,-8.2],[-0.8,-9.8],[1.8,-9.8],[4.2,-9.8],[6.8,-9.8],[9.4,-9.8],[11.8,-9.8],[14.4,-9.8],[16.8,-9.8],[19.4,-9.8],[-0.2,-11.2],[2.4,-11.2],[4.8,-11.2],[7.4,-11.2],[9.8,-11.2],[12.4,-11.2],[14.8,-11.2],[0.2,-12.8],[2.4,-12.8],[4.8,-12.8],[7.2,-12.8],[9.8,-12.8],[12.2,-12.8],[14.6,-12.8],[1.2,-14.2],[3.6,-14.2],[6.2,-14.2],[8.8,-14.2],[11.2,-14.2],[13.6,-14.2],[0.8,-16],[3.4,-16],[5.8,-16],[8.4,-16],[11,-16],[13,-15.8],
[20,-3],[20,-12],[18,-14],[17,-16],[-6,-8],[-5,-11],[-4,-14],[-3,-16],[16,-17],[-2,-17],[20,-5],[23,-8]
];

const redStray = [[-32,8.5],[-16.5,28],[-14,23],[-28,-38],[-4,-5],[9,-18],[-19,-6]];
const orangeStray = [[-28,-8],[-25,-7.6],[-27,-10.5],[-21,-11.5],[-24,-11],[-16.5,-10.5],[-10,-14],[-5,-16]];
const yellowStray = [[-36.6,9],[-35,7.4],[-40.5,-1],[-39,2],[-30,-10],[-22,-13],[-17,-13],[-3,38],[0,42],[33.5,36],[7.5,43],[18.5,10],[-17,-12]];
const greenStray = [[-11,-17],[-6,-14],[-10,29],[-3,-7],[12,-27],[7,-43]];
const springStray = [[-15,-10],[-10,-15],[14,-19],[17,-20],[10,-22],[-16,-20],[-8,-11],[3,-25],[-13,32]];
const cyanStray = [[15,22],[16,13],[13,9],[17,9],[23,-13],[21,-15],[24,-17],[26,-33],[22,-31],[-19,-12],[2,-20],[14,-24],[8,-23],[-32.5,-12.3],[24,-1],[23,3],[6,33.5],[-5,-18],[20,14]];
const blueStray = [[42.5,19.5],[19,14],[10,13],[-5,-10],[-2,-16],[10,-20],[22,-2],[2,8],[8,5],[6,11],[44,-23],[-8,23],[-11,-13],[16,-14],[-13,-9],[-3,22],[14,11],[24,-9],[-7,-19],[-4,-22],[4,-21],[-10,-9],[12,-23]];
const indigoStray = [[-38.5,27.6],[-36,30],[-31,36],[-32,26],[-24,23],[-27,21],[-20,32],[-37,11],[-39.5,7],[-6.5,35],[14,33],[16,29],[7,41],[32,40.5],[21.5,7],[20,3],[-12.5,20.5],[-3.5,37.5],[30,-18],[27,-15],[35,-17],[24,-25],[2,-36],[-1,-39],[5,-47],[-5,-33],[7,-29],[10,-36],[14,-30],[-3,-43],[3,-44],[12,-27],[-4,-24],[-33,-10],[-28.5,-7.6],[-6,4],[15,30],[26,-3],[31,-6],[-3,-20],[2,-23],[6,-21],[-8,-12]];
const magentaStray = [[-33,4.6],[-30,5],[-16,15],[-12,13],[-8,16],[-5,10],[-3,4],[-1,8],[3,9],[10,7],[14,4],[17,6],[20,-3],[-3.5,32.5],[-0.5,26],[-15,-12],[-11,-11],[-8,-14],[-5,-18],[3,37],[21,37],[-20,16],[-4,-12],[1,-21],[6,-24],[26,4],[28,-17],[-4,-29],[-31,-14],[22,-11],[31,-26],[-26,7.5],[9,-25],[5,6],[-6,-21],[-2,-24],[4,-19],[-10,-18],[11,-22]];
const pinkStray = [[-9,11],[-7,13],[-5,8],[-3,11],[-1,6],[1,9],[3,6],[5,8],[8,10],[11,7],[13,5],[15,8],[18,4],[-8,7],[-6,4],[-4,2],[-2,13],[4,12],[10,13],[-7,18],[-9,22],[14,14],[17,2],[22,-2],[-6,-13],[-8,-17],[-4,-19],[-2,-21],[0,-20],[3,-22],[5,-19.5],[8,-21],[10,-24],[13,-22],[15,-20],[17,-15],[-1,-24],[2,-26],[-6,-23],[-10,-26],[-4,-27],[-8,-33],[-3,-36],[0,-34],[4,-37],[7,-41],[-1,-47],[3,-50],[10,-46],[15,-38],[6,-30],[12,-33],[-13,-25],[-21,-27],[-18,-38],[-26,-38],[-12,-39],[-30,-35],[21,-26],[22,-20],[26,-14],[29,-25],[38,-22],[19,-34.5],[-27,16],[-16.5,25.6],[-7,34],[-17,27],[40,8],[43.5,9],[30.6,16.5],[-8,-21],[-1,-19],[7,-23],[11,-20],[17,-24]];

const orangeBig = [[-55,0]];
const greenBig = [[51.5,2]];
const springBig = [[34.5,-32]];

const mainSets = [redPts,orangePts,yellowPts,greenPts,springPts,cyanPts,bluePts,indigoPts,magentaPts,pinkPts];
const straySets = [redStray,orangeStray,yellowStray,greenStray,springStray,cyanStray,blueStray,indigoStray,magentaStray,pinkStray];

const series = [];
mainSets.forEach((d,i)=>series.push({type:'scatter',data:d,symbolSize:3.4,z:2,silent:true,
  itemStyle:{color:classColors[i],opacity:1},animation:false}));
[[orangeBig,1,13.5],[greenBig,3,14],[springBig,4,12.5]].forEach(b=>series.push({type:'scatter',data:b[0],symbolSize:b[2],z:2,silent:true,
  itemStyle:{color:classColors[b[1]],opacity:1},animation:false}));
straySets.forEach((d,i)=>series.push({type:'scatter',data:d,symbolSize:3,z:3,silent:true,
  itemStyle:{color:classColors[i],opacity:1},animation:false}));

const xMin=-63.2, xMax=60, yMin=-60, yMax=60;
const axisGray='#858585', textGray='#333333';
function axis(min,max,pos,show){
  return {type:'value',min,max,position:pos,
    axisLine:{show:true,onZero:false,lineStyle:{color:axisGray,width:1}},
    axisTick:{show:true,inside:true,length:2.5,customValues:tickValues,lineStyle:{color:axisGray,width:1}},
    axisLabel:{show:show,customValues:tickValues,color:textGray,fontSize:14,fontFamily:'Liberation Sans',margin:pos==='bottom'?8:6},
    splitLine:{show:false}};
}
const chart=echarts.init(document.getElementById('c'),null,{renderer:'canvas'});
chart.setOption({
  animation:false,
  backgroundColor:'#ffffff',
  title:{text:titleText,left:142,top:1,textStyle:{color:'#000',fontSize:14,fontWeight:'bold',fontFamily:'Liberation Sans'}},
  grid:{left:43.5,top:22,width:256,height:223.5,containLabel:false},
  xAxis:[axis(xMin,xMax,'bottom',true),axis(xMin,xMax,'top',false)],
  yAxis:[axis(yMin,yMax,'left',true),axis(yMin,yMax,'right',false)],
  series
});
</script>
</body>
</html>
